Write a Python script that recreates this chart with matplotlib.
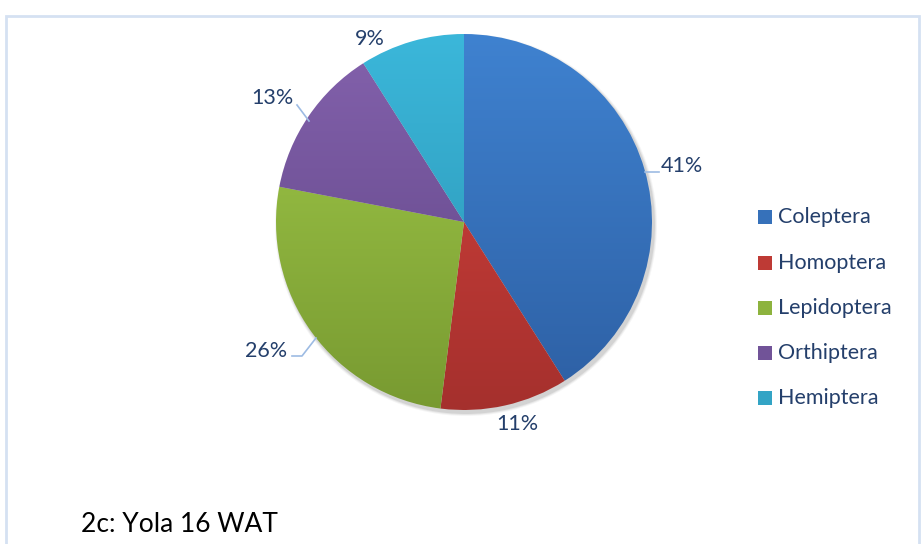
import matplotlib.pyplot as plt
import matplotlib.patches as mpatches
import matplotlib.colors as mcolors
import numpy as np

# insect orders, share of catch (%)
orders = ['Coleptera', 'Homoptera', 'Lepidoptera', 'Orthiptera', 'Hemiptera']
shares = [41, 11, 26, 13, 9]
labels = ['41%', '11%', '26%', '13%', '9%']
caption = '2c: Yola 16 WAT'

# light / dark ends of each slice gradient
top_colors = ['#3f82d0', '#d6433d', '#a2cb4a', '#8462ad', '#3bb7da']
bottom_colors = ['#2d5fa3', '#a5302d', '#789a31', '#5d4383', '#2a91b0']
text_color = '#243f6b'
plt.rcParams['font.family'] = ['Lato', 'DejaVu Sans']

W, H = 923, 544
fig = plt.figure(figsize=(W / 100, H / 100), dpi=100)
ax = fig.add_axes([0, 0, 1, 1])

# chart frame
ax.add_patch(mpatches.Rectangle((6, -10), 913, H - 6, fill=False,
                                edgecolor='#d5e1f2', linewidth=2.0))

cx, cy, R = 464, H - 222, 188

# soft shadow under the pie
for k, a in zip([6, 4, 2], [0.04, 0.06, 0.08]):
    ax.add_patch(mpatches.Circle((cx + 2, cy - 3), R + k * 0.5, color='black',
                                 alpha=a, linewidth=0))

wedges, _ = ax.pie(shares, center=(cx, cy), radius=R, startangle=90,
                   counterclock=False, frame=True,
                   wedgeprops=dict(linewidth=0))
ax.set_xlim(0, W)
ax.set_ylim(0, H)
ax.set_aspect('equal')
ax.axis('off')


def blend(c0, c1, t):
    a0 = np.array(mcolors.to_rgb(c0))
    a1 = np.array(mcolors.to_rgb(c1))
    return a0 * (1 - t) + a1 * t


# vertical gradient fill clipped to each wedge
t = np.linspace(0, 1, 256)[:, None]
for w, c0, c1 in zip(wedges, top_colors, bottom_colors):
    img = blend(c0, c1, t)[:, None, :].repeat(2, axis=1)
    w.set_facecolor('none')
    im = ax.imshow(img, extent=(cx - R, cx + R, cy - R, cy + R),
                   origin='upper', aspect='auto', interpolation='bilinear',
                   zorder=w.get_zorder())
    im.set_clip_path(w)

# percentage labels with leader lines
label_pos = [(682, H - 166), (517, H - 424), (266, H - 351),
             (272, H - 98), (370, H - 39)]
for (x, y), s in zip(label_pos, labels):
    ax.text(x, y, s, color=text_color, fontsize=15.5, ha='center', va='center')

lead_color = '#9dbbe3'
ax.plot([645, 659], [H - 172, H - 172], color=lead_color, lw=1.2)
ax.plot([292, 302, 316], [H - 356, H - 356, H - 338], color=lead_color, lw=1.2)
ax.plot([297, 309], [H - 105, H - 121], color=lead_color, lw=1.2)

# legend
leg_y = [217, 263, 308, 353, 398]
for name, yy, c0, c1 in zip(orders, leg_y, top_colors, bottom_colors):
    ax.add_patch(mpatches.Rectangle((758, H - yy - 7), 14, 14,
                                    facecolor=blend(c0, c1, 0.5),
                                    edgecolor='none'))
    ax.text(778, H - yy, name, color=text_color, fontsize=15.5,
            ha='left', va='center')

ax.text(81, H - 525, caption, color='black', fontsize=19,
        ha='left', va='center')

fig.savefig('out.png', dpi=100)
